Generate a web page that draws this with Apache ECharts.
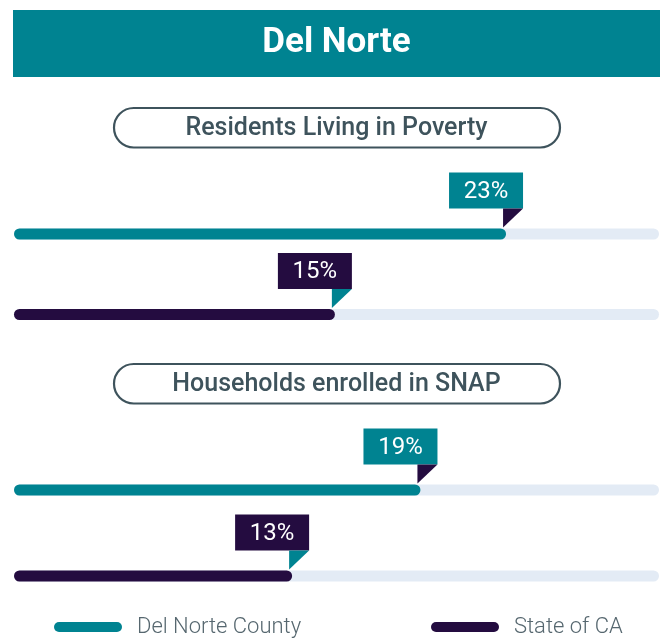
<!DOCTYPE html>
<html>
<head>
<meta charset="utf-8">
<script src="https://cdn.jsdelivr.net/npm/echarts@6/dist/echarts.min.js"></script>
<style>
  html, body { margin: 0; padding: 0; background: #ffffff; }
  #chart { width: 662px; height: 641px; }
</style>
</head>
<body>
<div id="chart"></div>
<script>
const chartTitle = 'Del Norte';
const sectionTitles = ['Residents Living in Poverty', 'Households enrolled in SNAP'];
const seriesNames = ['Del Norte County', 'State of CA'];
const povertyValues = [23, 15];
const snapValues = [19, 13];

const TEAL = '#008391';
const PURPLE = '#240c40';
const TRACK = '#e3ebf5';
const SLATE = '#3e535c';
const X_MAX = 30.15;

const chart = echarts.init(document.getElementById('chart'));

// label flag: box above the bar end, small triangle pointing down to it
function renderLabel(params, api) {
  const v = api.value(0);
  const c = api.value(1);
  const p = api.coord([v, c]);
  const barTop = p[1] - 5.5;
  const boxRight = p[0] + 17;
  const boxBottom = barTop - 20;
  const boxColor = c === 0 ? TEAL : PURPLE;
  const flagColor = c === 0 ? PURPLE : TEAL;
  return {
    type: 'group',
    children: [
      {
        type: 'rect',
        shape: { x: boxRight - 74, y: boxBottom - 36, width: 74, height: 36 },
        style: { fill: boxColor }
      },
      {
        type: 'polygon',
        shape: { points: [[boxRight - 20, boxBottom], [boxRight, boxBottom], [boxRight - 20, barTop - 1]] },
        style: { fill: flagColor }
      },
      {
        type: 'text',
        style: {
          text: v + '%',
          x: boxRight - 37,
          y: boxBottom - 17,
          align: 'center',
          verticalAlign: 'middle',
          fill: '#ffffff',
          font: '24px Roboto'
        }
      }
    ]
  };
}

const groups = [povertyValues, snapValues];
const grids = [
  { left: 14, right: 3, top: 193.75, height: 161 },
  { left: 14, right: 3, top: 447, height: 172 }
];

const xAxes = [], yAxes = [], series = [];
groups.forEach((values, g) => {
  xAxes.push({ type: 'value', gridIndex: g, min: 0, max: X_MAX, show: false });
  yAxes.push({ type: 'category', gridIndex: g, data: seriesNames, inverse: true, show: false });
  seriesNames.forEach((name, i) => {
    series.push({
      name: name,
      type: 'bar',
      xAxisIndex: g,
      yAxisIndex: g,
      barWidth: 11,
      barGap: '-100%',
      data: values.map((v, j) => (j === i ? v : '-')),
      itemStyle: { color: i === 0 ? TEAL : PURPLE, borderRadius: 5.5 },
      showBackground: i === 0,
      backgroundStyle: { color: TRACK, borderRadius: 5.5 }
    });
  });
  series.push({
    type: 'custom',
    xAxisIndex: g,
    yAxisIndex: g,
    z: 5,
    renderItem: renderLabel,
    encode: { x: 0, y: 1 },
    data: values.map((v, j) => [v, j])
  });
});

const legendBase = {
  top: 616,
  padding: 0,
  itemWidth: 68,
  itemHeight: 10,
  icon: 'path://M5,0 L63,0 A5,5 0 0 1 63,10 L5,10 A5,5 0 0 1 5,0 Z',
  selectedMode: false,
  textStyle: { fontFamily: 'Roboto', fontSize: 22, fontWeight: 300, color: '#56676f', padding: [0, 0, 0, 10] }
};

const sectionTops = [108, 364];
const graphics = [
  {
    type: 'rect',
    shape: { x: 13, y: 10, width: 647, height: 67 },
    style: { fill: TEAL }
  },
  {
    type: 'text',
    x: 336.5,
    y: 43.5,
    style: {
      text: chartTitle,
      align: 'center',
      verticalAlign: 'middle',
      fill: '#ffffff',
      font: 'bold 35px Roboto'
    }
  }
];
sectionTitles.forEach((t, i) => {
  graphics.push({
    type: 'rect',
    shape: { x: 114, y: sectionTops[i], width: 446, height: 39.5, r: 19.75 },
    style: { fill: '#ffffff', stroke: SLATE, lineWidth: 2.2 }
  });
  graphics.push({
    type: 'text',
    x: 336.5,
    y: sectionTops[i] + 21,
    style: {
      text: t,
      align: 'center',
      verticalAlign: 'middle',
      fill: SLATE,
      font: '500 25px Roboto'
    }
  });
});

chart.setOption({
  animation: false,
  backgroundColor: '#ffffff',
  grid: grids,
  xAxis: xAxes,
  yAxis: yAxes,
  legend: [
    Object.assign({}, legendBase, { left: 54, data: [seriesNames[0]] }),
    Object.assign({}, legendBase, { left: 431, data: [seriesNames[1]] })
  ],
  graphic: graphics,
  series: series
});
</script>
</body>
</html>
